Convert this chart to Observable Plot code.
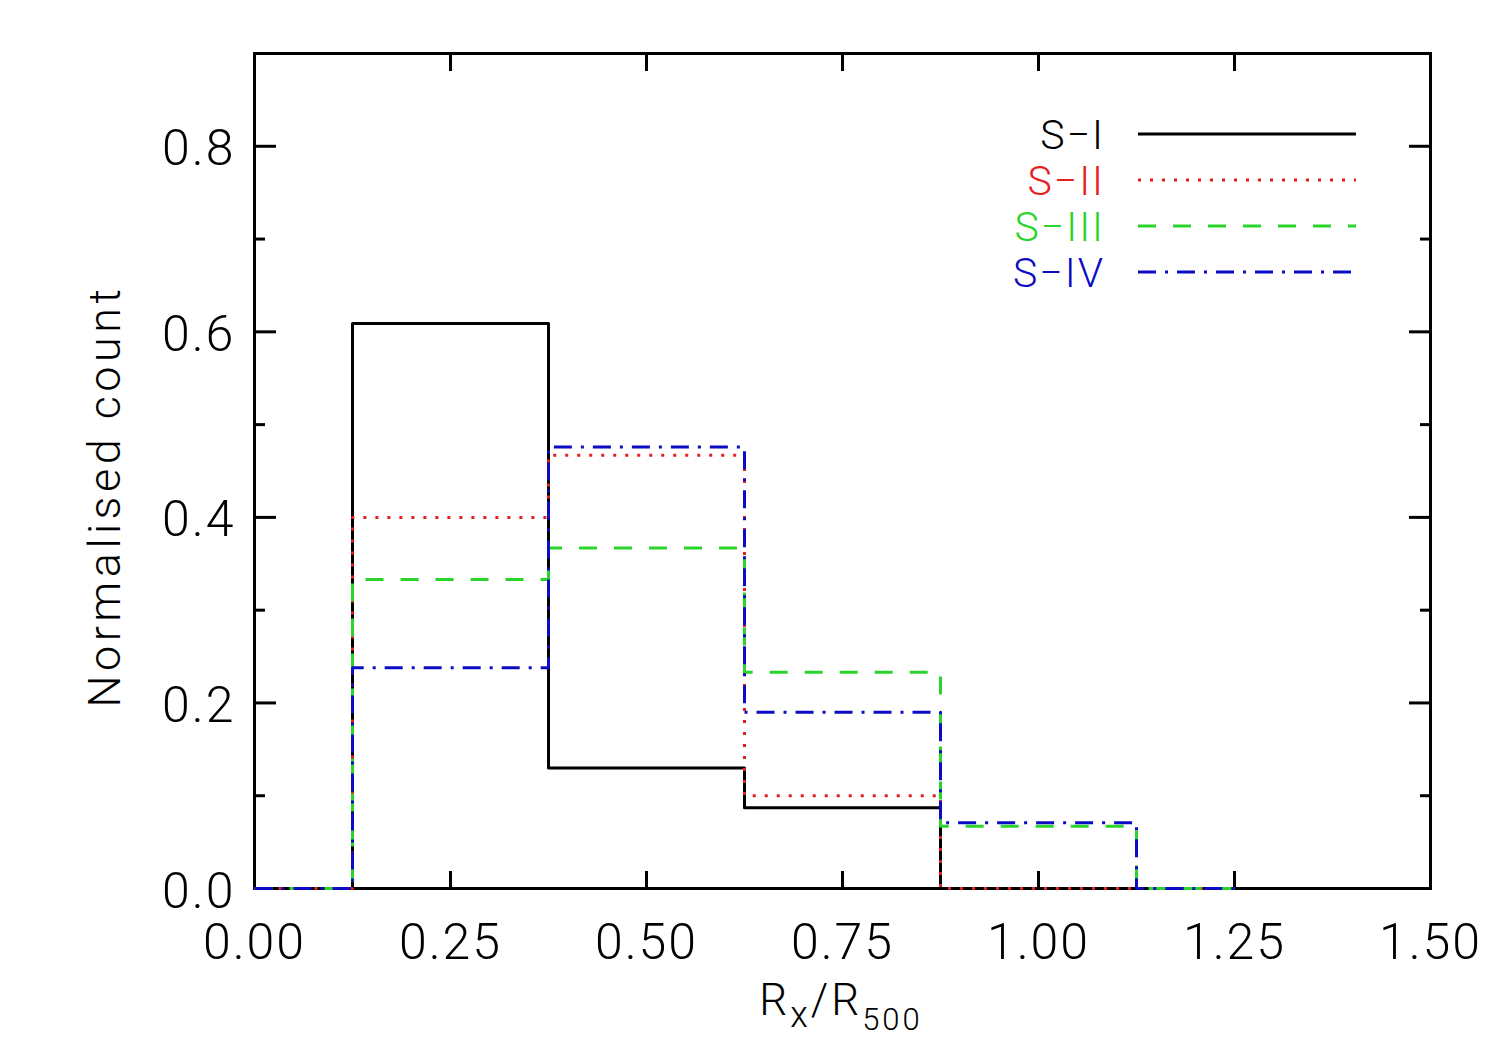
<!DOCTYPE html>
<html>
<head>
<meta charset="utf-8">
<script src="https://cdn.jsdelivr.net/npm/d3@7"></script>
<script src="https://cdn.jsdelivr.net/npm/@observablehq/plot@0.6"></script>
<style>
  body { margin: 0; background: #fff; }
  #chart { position: relative; width: 1499px; height: 1059px; }
</style>
</head>
<body>
<div id="chart"></div>
<script>
// ---- data ----
const binCenters = [0, 0.25, 0.5, 0.75, 1.0, 1.25];
const seriesNames = ["S\u2212I", "S\u2212II", "S\u2212III", "S\u2212IV"];
const valuesSI   = [0, 0.609, 0.130, 0.087, 0.000, 0];
const valuesSII  = [0, 0.400, 0.467, 0.100, 0.000, 0];
const valuesSIII = [0, 0.333, 0.367, 0.233, 0.067, 0];
const valuesSIV  = [0, 0.238, 0.476, 0.190, 0.071, 0];
const xTicks = [0, 0.25, 0.5, 0.75, 1.0, 1.25, 1.5];
const yMajorTicks = [0, 0.2, 0.4, 0.6, 0.8];
const yMinorTicks = [0.1, 0.3, 0.5, 0.7];
const xTitle = ["R", "x", "/R", "500"];
const yTitle = "Normalised count";

// ---- styles ----
const seriesColors = ["#000000", "#e41f1f", "#2ad42a", "#0c0cc4"];
const seriesDash = [undefined, "3,9", "18,17", "18,9,3,9"];
const FONT = "Roboto, 'Liberation Sans', sans-serif";

const allValues = [valuesSI, valuesSII, valuesSIII, valuesSIV];
const rows = [];
allValues.forEach((vals, i) => binCenters.forEach((c, j) => rows.push({series: seriesNames[i], x: c, y: vals[j]})));

const lineMarks = seriesNames.map((name, i) =>
  Plot.line(rows.filter(r => r.series === name), {
    x: "x", y: "y", curve: "step",
    stroke: seriesColors[i], strokeWidth: 3,
    strokeDasharray: seriesDash[i], strokeLinecap: "butt"
  })
);

const blank = () => "";

const plot = Plot.plot({
  width: 1499,
  height: 1059,
  marginLeft: 254,
  marginRight: 69,
  marginTop: 53,
  marginBottom: 171,
  style: {fontFamily: FONT, fontSize: "50px", fontWeight: 300, background: "#fff", color: "#000", letterSpacing: "2px"},
  x: {domain: [0, 1.5]},
  y: {domain: [0, 0.9]},
  marks: [
    Plot.frame({stroke: "#000", strokeWidth: 3}),
    Plot.axisX(xTicks, {anchor: "bottom", tickSize: -17, tickPadding: 52, strokeWidth: 3, tickFormat: d3.format(".2f"), label: null}),
    Plot.axisX(xTicks, {anchor: "top", tickSize: -17, strokeWidth: 3, tickFormat: blank, label: null}),
    Plot.axisY(yMajorTicks, {anchor: "left", tickSize: -22, strokeWidth: 3, tickFormat: blank, label: null}),
    Plot.axisY(yMajorTicks, {anchor: "left", tickSize: 0, tickPadding: 19, tickFormat: d3.format(".1f"), label: null, dy: 3}),
    Plot.axisY(yMinorTicks, {anchor: "left", tickSize: -11, strokeWidth: 3, tickFormat: blank, label: null}),
    Plot.axisY(yMajorTicks, {anchor: "right", tickSize: -22, strokeWidth: 3, tickFormat: blank, label: null}),
    Plot.axisY(yMinorTicks, {anchor: "right", tickSize: -11, strokeWidth: 3, tickFormat: blank, label: null}),
    Plot.text([yTitle], {frameAnchor: "left", textAnchor: "middle", rotate: -90, dx: -149, dy: 25, fontSize: 45, fill: "#000"}),
    ...lineMarks
  ]
});

document.getElementById("chart").appendChild(plot);

const svg = d3.select(plot);
// wider spacing for the y title like the original
svg.selectAll("text").filter(function() { return this.textContent === yTitle; })
  .style("letter-spacing", "4.5px");

// ---- x axis title with subscripts ----
const xt = svg.append("text")
  .attr("x", 841).attr("y", 1015)
  .attr("text-anchor", "middle")
  .attr("font-family", FONT).attr("font-weight", 300)
  .style("letter-spacing", "3px")
  .attr("fill", "#000");
xt.append("tspan").attr("font-size", 44).text(xTitle[0]);
xt.append("tspan").attr("font-size", 36).attr("dy", 12).text(xTitle[1]);
xt.append("tspan").attr("font-size", 44).attr("dy", -12).text(xTitle[2]);
xt.append("tspan").attr("font-size", 31).attr("dy", 15).text(xTitle[3]);

// ---- legend ----
const leg = svg.append("g").attr("font-family", FONT).attr("font-weight", 300);
seriesNames.forEach((name, i) => {
  const yy = 134 + 46 * i;
  leg.append("text")
    .attr("x", 1105).attr("y", yy).attr("dy", "0.36em")
    .attr("text-anchor", "end").attr("font-size", 41)
    .style("letter-spacing", "2px")
    .attr("fill", seriesColors[i]).text(name);
  leg.append("line")
    .attr("x1", 1138).attr("x2", 1356).attr("y1", yy).attr("y2", yy)
    .attr("stroke", seriesColors[i]).attr("stroke-width", 3)
    .attr("stroke-dasharray", seriesDash[i] || null);
});
</script>
</body>
</html>
